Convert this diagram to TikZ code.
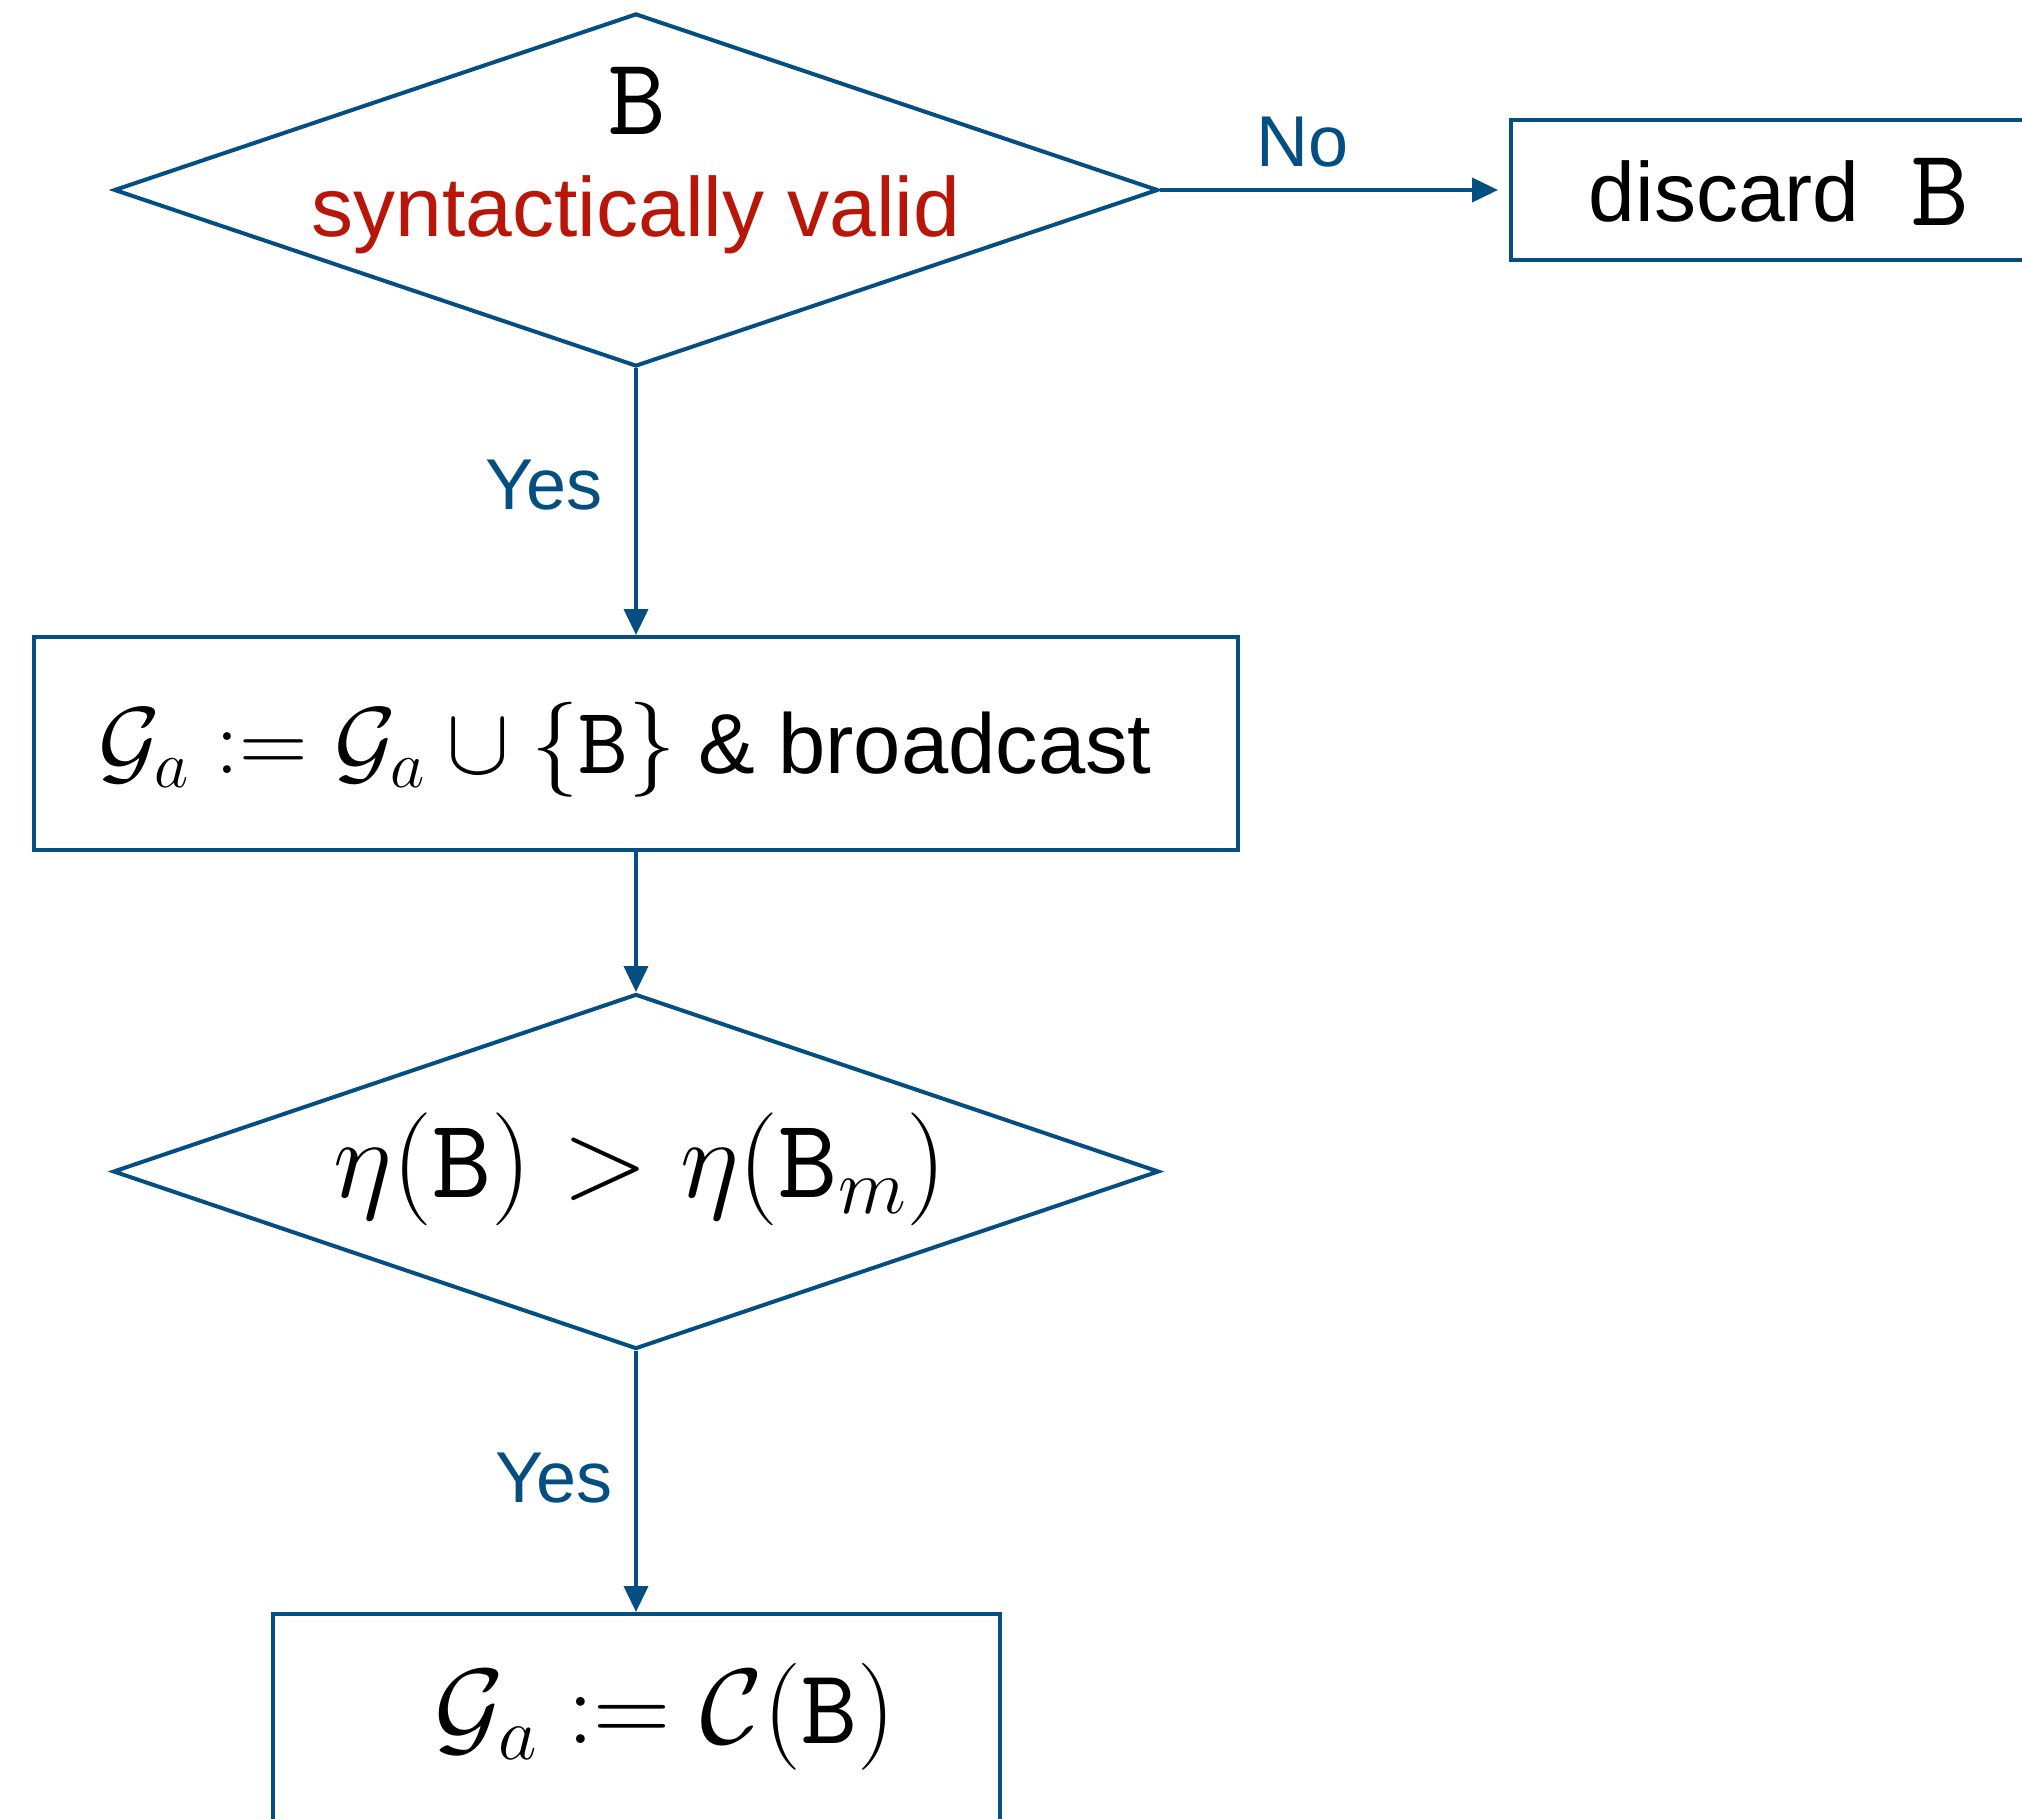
\documentclass[tikz,border=0pt]{standalone}
\IfFileExists{fix-cm.sty}{\usepackage{fix-cm}}{}
\usepackage[no-math]{fontspec}
\setmainfont{Liberation Sans}
\newfontfamily\ttten{lmmono10-regular}[Extension=.otf]
\newcommand{\tB}{\mbox{\ttten B}}
\usetikzlibrary{shapes.geometric,arrows.meta}
\definecolor{flowblue}{RGB}{5,78,130}
\definecolor{validred}{RGB}{185,22,10}
\begin{document}
\begin{tikzpicture}[x=1pt,y=-1pt,
  flow/.style={draw=flowblue, line width=4pt},
  decision/.style={flow, diamond, inner sep=0pt},
  procbox/.style={flow, rectangle, inner sep=0pt},
  conn/.style={draw=flowblue, line width=4pt, -{Triangle[length=26pt,width=24pt]}},
  lbl/.style={text=flowblue, font=\fontsize{72}{80}\selectfont},
  bigtext/.style={font=\fontsize{84}{100}\selectfont},
]
\useasboundingbox (0,0) rectangle (2022,1819);

% decision 1
\node[decision, minimum width=1044pt, minimum height=353pt] (d1) at (636,190) {};
\node[anchor=base, inner sep=0pt] (d1b) at (637,135) {\fontsize{110}{120}\selectfont\tB};
\node[anchor=base, inner sep=0pt, text=validred, bigtext] (d1t) at (636,237) {syntactically valid};

% discard box
\node[procbox, minimum width=532pt, minimum height=140pt] (dis) at (1777,190) {};
\node[anchor=base, inner sep=0pt, bigtext] (dist) at (1779,222) {discard\hspace{52pt}\raisebox{-4pt}{\fontsize{110}{120}\selectfont\tB}};

% box 2
\node[procbox, minimum width=1204pt, minimum height=213pt] (b2) at (636,743.5) {};
\node[anchor=base, inner sep=0pt] (b2t) at (625,773) {{\fontsize{95}{100}\selectfont$\mathcal{G}_a := \mathcal{G}_a \cup \{\tB\}$}\hspace{22pt}{\fontsize{85}{100}\selectfont\& broadcast}};

% decision 2
\node[decision, minimum width=1046pt, minimum height=355pt] (d2) at (636,1171.5) {};
\node[anchor=base, inner sep=0pt] (d2t) at (640,1197) {\fontsize{113}{120}\selectfont$\eta(\tB) > \eta(\tB_m)$};

% box 3
\node[procbox, minimum width=727pt, minimum height=213pt] (b3) at (636,1720.5) {};
\node[anchor=base, inner sep=0pt] (b3t) at (665,1743) {\fontsize{107}{120}\selectfont$\mathcal{G}_a := \mathcal{C}(\tB)$};

% connectors
\draw[conn, shorten >=11pt] (d1.east) -- node[lbl, pos=0.407, anchor=base, yshift=23pt] (lno) {No} (dis.west);
\draw[conn] (d1.south) -- node[lbl, pos=0.528, anchor=base east, xshift=-28pt] (lyes1) {Yes} (b2.north);
\draw[conn] (b2.south) -- (d2.north);
\draw[conn] (d2.south) -- node[lbl, pos=0.581, anchor=base east, xshift=-18pt] (lyes2) {Yes} (b3.north);
\end{tikzpicture}
\end{document}
